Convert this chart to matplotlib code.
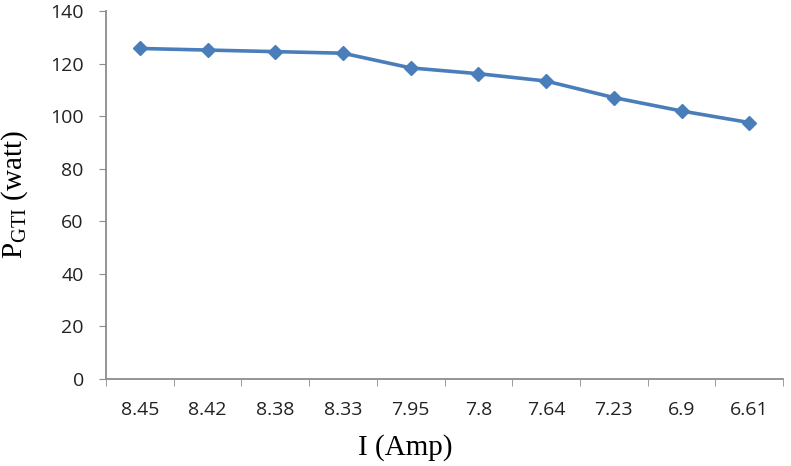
import numpy as np
import matplotlib.pyplot as plt
from matplotlib.ticker import FixedLocator

plt.rcParams['mathtext.fontset'] = 'custom'
plt.rcParams['mathtext.rm'] = 'Liberation Serif'

# data
current = ['8.45', '8.42', '8.38', '8.33', '7.95', '7.8', '7.64', '7.23', '6.9', '6.61']
power = [125.8, 125.2, 124.6, 124.0, 118.4, 116.2, 113.4, 107.1, 102.0, 97.6]

x = np.arange(len(current))
line_col = '#4A7EBB'
axis_col = '#8C8C8C'

fig = plt.figure(figsize=(7.91, 4.66), dpi=100)
ax = fig.add_axes([0.134, 0.187, 0.856, 0.789])

ax.plot(x, power, color=line_col, lw=2.6, marker='D', ms=7,
        markerfacecolor=line_col, markeredgecolor=line_col)

ax.set_xlim(-0.5, len(current) - 0.5)
ax.set_ylim(0, 140)
ax.set_yticks(np.arange(0, 141, 20))
ax.set_xticks(x)
ax.set_xticklabels(current)
ax.xaxis.set_minor_locator(FixedLocator(np.arange(-0.5, len(current), 1)))

for s in ['top', 'right']:
    ax.spines[s].set_visible(False)
for s in ['left', 'bottom']:
    ax.spines[s].set_color(axis_col)
    ax.spines[s].set_linewidth(1.3)

ax.tick_params(axis='y', length=5, color=axis_col, labelsize=14,
               labelcolor='#222222', pad=11)
ax.tick_params(axis='x', which='major', length=0, labelsize=14,
               labelcolor='#222222', pad=16)
ax.tick_params(axis='x', which='minor', length=5, color=axis_col)
for lab in ax.get_xticklabels() + ax.get_yticklabels():
    lab.set_family('Open Sans')

ax.set_xlabel('I (Amp)', family='Liberation Serif', fontsize=21)
ax.xaxis.set_label_coords(0.442, -0.15)
ax.set_ylabel(r'P$_{\mathrm{GTI}}$ (watt)', family='Liberation Serif',
              fontsize=21)
ax.yaxis.set_label_coords(-0.112, 0.5)

fig.savefig('out.png', dpi=100)
